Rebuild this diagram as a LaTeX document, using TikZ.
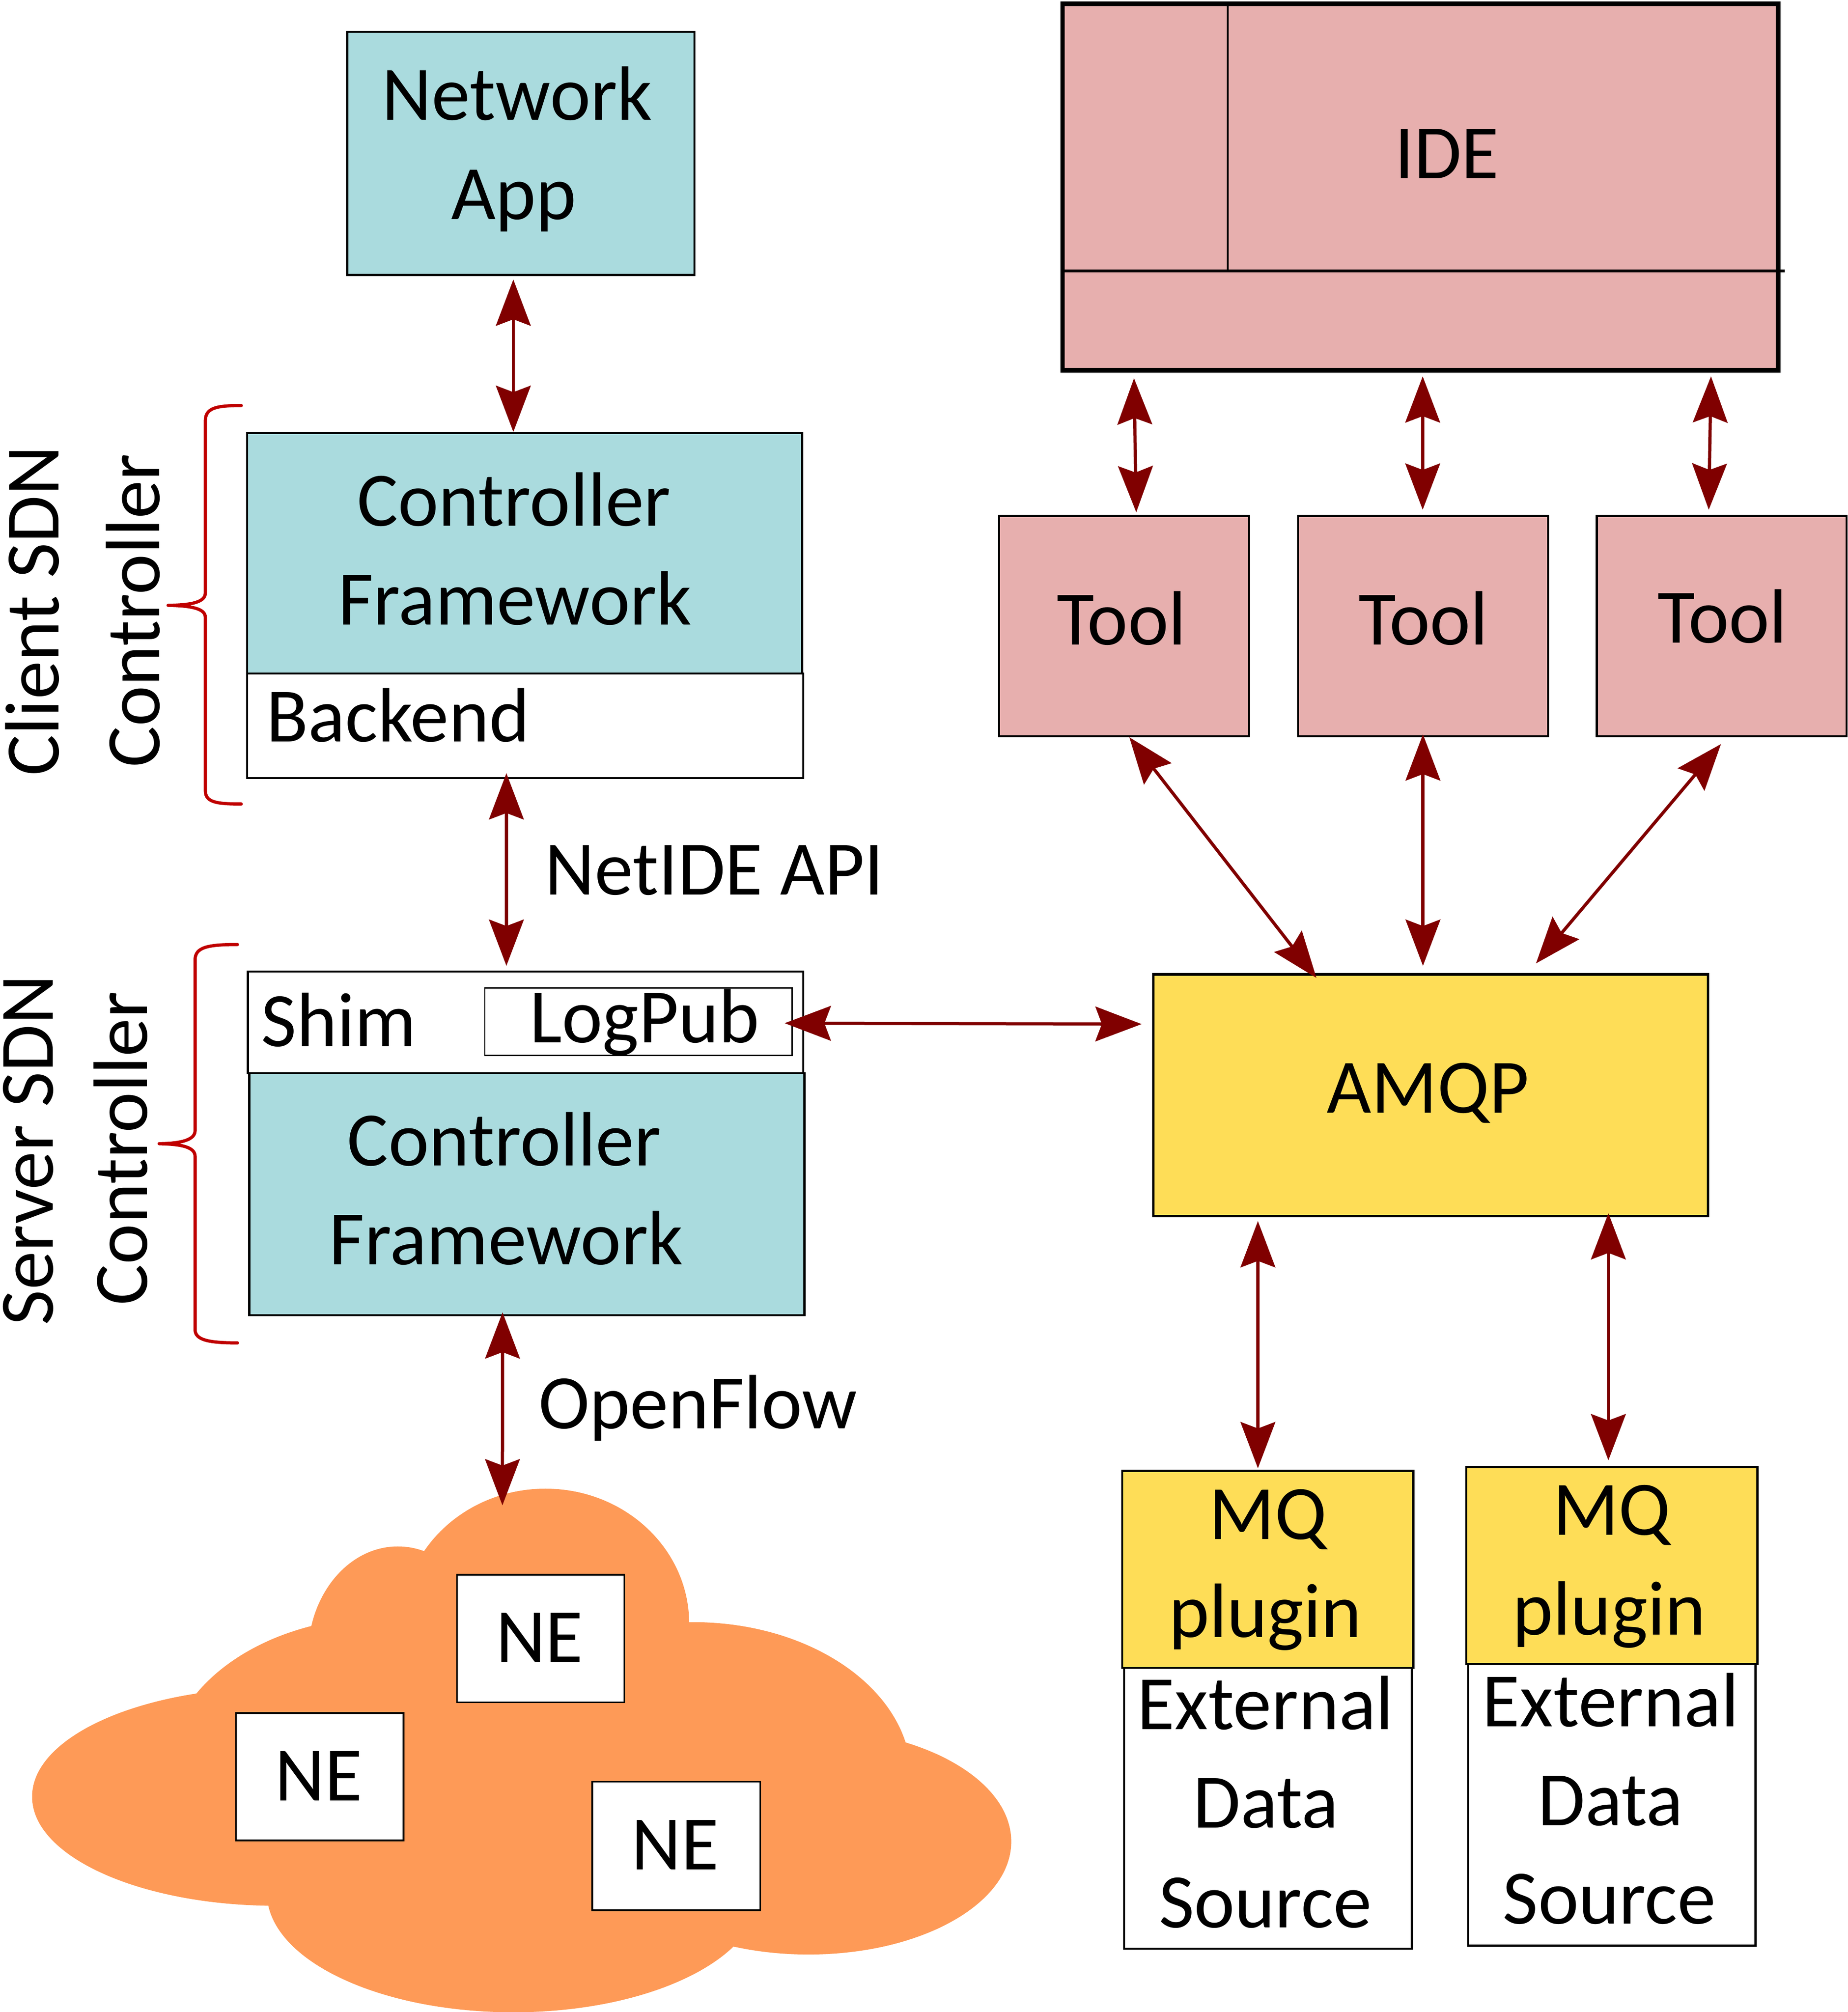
\documentclass[tikz,border=0pt]{standalone}
\usepackage{fontspec}
\setmainfont{Carlito}
\usetikzlibrary{arrows.meta}
\definecolor{tealbox}{HTML}{AADBDE}
\definecolor{pinkbox}{HTML}{E7AFAE}
\definecolor{yellbox}{HTML}{FEDD57}
\definecolor{cloudor}{HTML}{FE9A57}
\definecolor{arrred}{HTML}{800000}
\definecolor{bracered}{HTML}{C00000}
\begin{document}
\begin{tikzpicture}[x=1pt,y=-1pt,
  box/.style={draw=black, line width=1.6pt, rectangle, inner sep=0pt},
  txt/.style={font=\fontsize{60}{72}\selectfont, inner sep=0pt, anchor=base},
  txtw/.style={font=\fontsize{60}{72}\selectfont, inner sep=0pt, anchor=base west},
  arr/.style={draw=arrred, line width=2.5pt, {Stealth[length=36pt,width=27pt,inset=5pt]}-{Stealth[length=36pt,width=27pt,inset=5pt]}},
  bracepath/.style={draw=bracered, line width=2.5pt, line cap=round, line join=round}]

\useasboundingbox (0,0) rectangle (1440,1567.8);

% ---- cloud ----
\fill[cloudor] (425,1265) ellipse [x radius=112pt, y radius=105pt];
\fill[cloudor] (310,1290) ellipse [x radius=70pt, y radius=85pt];
\fill[cloudor] (300,1380) ellipse [x radius=170pt, y radius=120pt];
\fill[cloudor] (215,1400) ellipse [x radius=190pt, y radius=85pt];
\fill[cloudor] (400,1475) ellipse [x radius=192pt, y radius=93pt];
\fill[cloudor] (630,1435) ellipse [x radius=158pt, y radius=88pt];
\fill[cloudor] (540,1385) ellipse [x radius=170pt, y radius=121pt];
\fill[cloudor] (420,1390) ellipse [x radius=200pt, y radius=110pt];
\coordinate (cloudtop) at (391.5,1173);

\node[box, line width=1.2pt, fill=white, minimum width=130.4pt, minimum height=99.6pt] (ne1) at (421.2,1276.8) {};
\node[box, line width=1.2pt, fill=white, minimum width=130.4pt, minimum height=99.3pt] (ne2) at (249.2,1384.45) {};
\node[box, line width=1.2pt, fill=white, minimum width=131pt, minimum height=100.2pt] (ne3) at (527,1438.4) {};
\node[txt] (ne1t) at (420.4,1295.4) {NE};
\node[txt] (ne2t) at (248.4,1403.2) {NE};
\node[txt] (ne3t) at (526.2,1457) {NE};

% ---- left column ----
\node[box, fill=tealbox, minimum width=270.6pt, minimum height=189.5pt] (netapp) at (405.9,119.55) {};
\node[txt] (netapp1) at (403,93.4) {Network};
\node[txt] (netapp2) at (400.4,170.8) {App};

\node[box, fill=white, minimum width=433.3pt, minimum height=81.5pt] (backend) at (409.25,565.55) {};
\node[box, fill=tealbox, minimum width=432.4pt, minimum height=187.4pt] (cf1) at (408.8,431.1) {};
\node[txt] (cf1a) at (400.5,409.7) {Controller};
\node[txt] (cf1b) at (401.2,486.9) {Framework};
\node[txtw] (backendt) at (207.5,578) {Backend};

\node[txtw] (apilabel) at (424.5,697.4) {NetIDE API};

\node[box, fill=white, minimum width=432.6pt, minimum height=79.4pt] (shim) at (409.5,796.7) {};
\node[box, line width=1pt, fill=white, minimum width=239.5pt, minimum height=52.7pt] (logpub) at (497.55,796.15) {};
\node[txtw] (shimt) at (203.5,815.3) {Shim};
\node[txtw] (logpubt) at (412.5,812.3) {LogPub};
\node[box, fill=tealbox, minimum width=432.6pt, minimum height=188.5pt] (cf2) at (410.5,930.65) {};
\node[txt] (cf2a) at (393,908.4) {Controller};
\node[txt] (cf2b) at (394.4,985.2) {Framework};

\node[txtw] (oflabel) at (419.5,1113.3) {OpenFlow};

% ---- side labels and braces ----
\node[txt, rotate=90] (client1) at (45.9,476) {Client SDN};
\node[txt, rotate=90] (client2) at (124.2,475.8) {Controller};
\node[txt, rotate=90] (server1) at (41.3,896.2) {Server SDN};
\node[txt, rotate=90] (server2) at (114.6,895) {Controller};

\draw[bracepath] (188,316) .. controls (168,316) and (160,318) .. (160,328) -- (160,462)
  .. controls (160,469) and (150,471.5) .. (131,471.7)
  .. controls (150,472) and (160,474.5) .. (160,481) -- (160,616)
  .. controls (160,625) and (168,626.5) .. (188,626.5);
\draw[bracepath] (185,736) .. controls (162,736) and (152,738) .. (152,748) -- (152,881)
  .. controls (152,888) and (142,891) .. (124,891.2)
  .. controls (142,891.5) and (152,894) .. (152,901) -- (152,1036)
  .. controls (152,1044) and (162,1046.4) .. (185,1046.4);

% ---- right column ----
\node[box, line width=3.5pt, fill=pinkbox, minimum width=557.5pt, minimum height=285.5pt] (ide) at (1106.75,145.75) {};
\draw[line width=1.6pt] ([xshift=130.3pt]ide.north west) -- ([xshift=130.3pt,yshift=79.3pt]ide.south west);
\draw[line width=2.2pt] ([yshift=79.3pt]ide.south west) -- ([xshift=3.5pt,yshift=79.3pt]ide.south east);
\node[txt] (idet) at (1127.4,139) {IDE};

\node[box, fill=pinkbox, minimum width=194.8pt, minimum height=171.7pt] (tool1) at (875.9,487.85) {};
\node[box, fill=pinkbox, minimum width=194.9pt, minimum height=171.7pt] (tool2) at (1108.95,487.85) {};
\node[box, fill=pinkbox, minimum width=194.8pt, minimum height=171.7pt] (tool3) at (1341.6,487.85) {};
\node[txt] (tool1t) at (873.9,502.3) {Tool};
\node[txt] (tool2t) at (1109.2,502.3) {Tool};
\node[txt] (tool3t) at (1342.1,500.8) {Tool};

\node[box, line width=2pt, fill=yellbox, minimum width=432.4pt, minimum height=188.2pt] (amqp) at (1114.8,853.4) {};
\node[txt] (amqpt) at (1112.7,867.3) {AMQP};

\node[box, fill=white, minimum width=224.3pt, minimum height=219pt] (eds1) at (988.05,1409.1) {};
\node[box, fill=yellbox, minimum width=226.9pt, minimum height=153.5pt] (mq1) at (987.85,1222.85) {};
\node[box, fill=white, minimum width=223.9pt, minimum height=219.4pt] (eds2) at (1256.05,1406.4) {};
\node[box, fill=yellbox, minimum width=226.9pt, minimum height=153.5pt] (mq2) at (1256.05,1219.95) {};

\node[txt] (mq1a) at (988,1199.3) {MQ};
\node[txt] (mq1b) at (986,1275.9) {plugin};
\node[txt] (eds1a) at (986,1347.5) {External};
\node[txt] (eds1b) at (986.5,1424.4) {Data};
\node[txt] (eds1c) at (986,1502.2) {Source};
\node[txt] (mq2a) at (1256,1196) {MQ};
\node[txt] (mq2b) at (1254,1273.8) {plugin};
\node[txt] (eds2a) at (1255,1345.4) {External};
\node[txt] (eds2b) at (1255,1422.4) {Data};
\node[txt] (eds2c) at (1254,1498.9) {Source};

% ---- connectors ----
\draw[arr] ([xshift=-5.9pt,yshift=-2.7pt]netapp.south) -- ([xshift=-8.8pt]cf1.north);
\draw[arr] ([xshift=-14.65pt,yshift=4.6pt]backend.south) -- ([xshift=-14.9pt,yshift=3.6pt]shim.north);
\draw[arr] ([xshift=-18.9pt,yshift=3.1pt]cf2.south) -- (cloudtop);
\draw[arr] ([xshift=-6.4pt,yshift=-1.15pt]logpub.east) -- ([xshift=-8pt,yshift=55.4pt]amqp.west);

\draw[arr] ([xshift=57.4pt,yshift=-4.5pt]ide.south west) -- ([xshift=9.5pt,yshift=2pt]tool1.north);
\draw[arr] ([xshift=1.85pt,yshift=-3pt]ide.south) -- ([xshift=-0.35pt,yshift=4pt]tool2.north);
\draw[arr] ([xshift=-54pt,yshift=-3pt]ide.south east) -- ([xshift=-10.1pt,yshift=4pt]tool3.north);

\draw[arr] ([xshift=4.1pt]tool1.south) -- ([xshift=-89pt,yshift=-3.7pt]amqp.north);
\draw[arr] ([xshift=-0.15pt,yshift=2.3pt]tool2.south) -- ([xshift=-6pt,yshift=5.7pt]amqp.north);
\draw[arr] ([xshift=-0.6pt,yshift=-5.3pt]tool3.south) -- ([xshift=82.1pt,yshift=7.6pt]amqp.north);

\draw[arr] ([xshift=-134.6pt,yshift=-3pt]amqp.south) -- ([xshift=-7.65pt,yshift=1.2pt]mq1.north);
\draw[arr] ([xshift=138.5pt,yshift=3.2pt]amqp.south) -- ([xshift=-2.75pt,yshift=4.5pt]mq2.north);

\end{tikzpicture}
\end{document}
